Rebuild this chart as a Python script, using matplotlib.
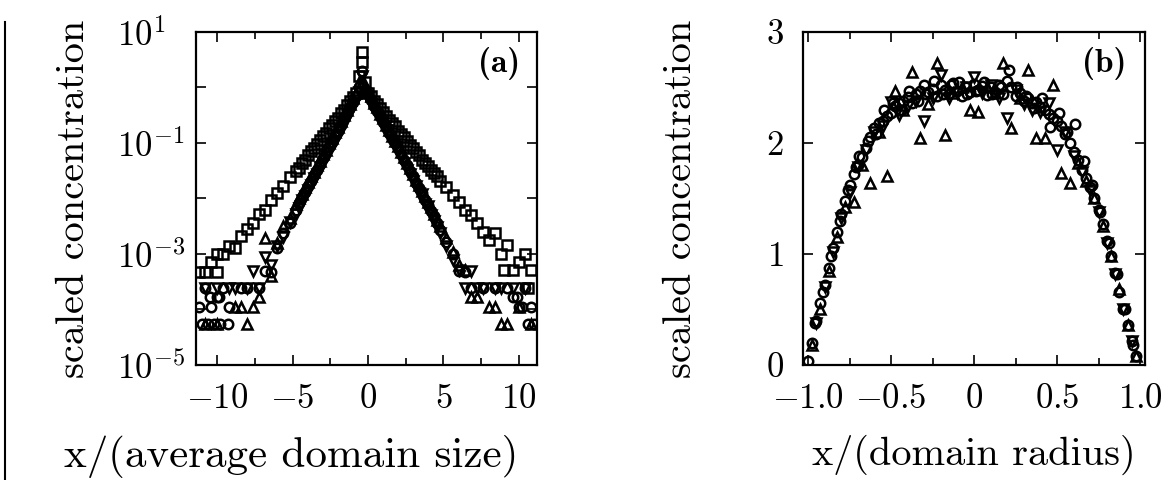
import numpy as np
import matplotlib
matplotlib.use("Agg")
import matplotlib.pyplot as plt
from matplotlib.lines import Line2D

plt.rcParams['font.family'] = 'cmr10'
plt.rcParams['mathtext.fontset'] = 'cm'
plt.rcParams['axes.formatter.use_mathtext'] = True

nan = np.nan

# ---- panel (a): x/(average domain size), values are log10(scaled concentration)
xa = [-11.2, -10.8, -10.4, -10.0, -9.6, -9.2, -8.8, -8.4, -8.0, -7.6,
      -7.2, -6.8, -6.4, -6.0, -5.6, -5.2, -4.8, -4.4, -4.0, -3.6,
      -3.2, -2.8, -2.4, -2.0, -1.6, -1.2, -0.8, -0.4,
      0.0, 0.4, 0.8, 1.2, 1.6, 2.0, 2.4, 2.8, 3.2, 3.6,
      4.0, 4.4, 4.8, 5.2, 5.6, 6.0, 6.4, 6.8, 7.2, 7.6,
      8.0, 8.4, 8.8, 9.2, 9.6, 10.0, 10.4, 10.8]

sq_a = [-3.32, -3.32, -3.14, -3.32, -3.0, -2.85, -2.9, -2.68, -2.55, -2.45,
        -2.28, -2.2, -2.02, -1.9, -1.78, -1.62, -1.5, -1.36, -1.22, -1.1,
        -0.95, -0.82, -0.68, -0.55, -0.4, -0.25, -0.1, 0.64,
        -0.1, -0.24, -0.38, -0.52, -0.64, -0.78, -0.9, -1.04, -1.16, -1.3,
        -1.42, -1.54, -1.68, -1.8, -1.94, -2.06, -2.2, -2.3, -2.44, -2.6,
        -2.75, -2.62, -3.0, -2.84, -3.29, -3.14, -3.0, -3.29]

circ_a = [-3.96, -3.61, -3.96, -3.77, -3.61, -3.96, nan, -3.61, -3.61, nan,
          -3.61, -3.3, -3.32, -2.9, -2.62, -2.44, -2.2, -1.98, -1.78, -1.58,
          -1.38, -1.16, -0.98, -0.78, -0.56, -0.36, -0.16, 0.3,
          -0.12, -0.34, -0.52, -0.72, -0.92, -1.1, -1.3, -1.5, -1.72, -1.9,
          -2.12, -2.32, -2.56, -2.78, -3.0, -3.3, -3.32, -3.61, nan, -3.61,
          nan, -3.61, nan, -3.61, -3.77, -3.96, -3.61, -3.96]

tdn_a = [nan, -3.61, nan, -3.61, nan, -3.61, -3.61, nan, -3.61, -3.3,
         -3.61, -3.05, -3.2, -2.86, -2.7, -2.42, -2.28, -2.02, -1.84, -1.64,
         -1.44, -1.24, -1.04, -0.86, -0.64, -0.44, -0.22, 0.2,
         -0.18, -0.38, -0.58, -0.76, -0.96, -1.16, -1.36, -1.56, -1.78, -1.92,
         -2.14, -2.4, -2.62, -2.86, -3.1, -3.29, -3.61, -3.3, -3.61, -3.61,
         nan, -3.61, -3.61, nan, -3.61, nan, -3.61, nan]

tup_a = [nan, -4.26, nan, -4.26, nan, nan, -3.96, -3.96, -4.26, -3.96,
         -3.77, -2.71, -3.4, -2.8, -2.5, -2.36, -2.1, -1.92, -1.7, -1.52,
         -1.32, -1.12, -0.92, -0.72, -0.5, -0.3, -0.1, 0.1,
         -0.06, -0.28, -0.48, -0.68, -0.88, -1.06, -1.26, -1.46, -1.66, -1.86,
         -2.06, -2.28, -2.5, -2.72, -2.96, -3.2, -3.29, -3.77, -3.77, nan,
         -3.96, -3.96, -4.26, -4.26, nan, -3.96, nan, -4.26]

# points between the grid positions near the peak
xa_mid = [-4.6, -4.2, -3.8, -3.4, -3.0, -2.6, -2.2, -1.8, -1.4, -1.0, -0.6, -0.2,
          0.2, 0.6, 1.0, 1.4, 1.8, 2.2, 2.6, 3.0, 3.4, 3.8, 4.2, 4.6]
sq_mid = [-1.45, -1.3, -1.14, -1.02, -0.88, -0.74, -0.6, -0.46, -0.32, -0.18, 0.2, 0.1,
          -0.16, -0.3, -0.44, -0.58, -0.7, -0.84, -0.96, -1.1, -1.22, -1.36, -1.48, -1.6]
circ_mid = [-2.08, -1.88, -1.68, -1.48, -1.28, -1.08, -0.88, -0.68, -0.46, -0.26, 0.0, -0.05,
            -0.22, -0.42, -0.62, -0.82, -1.0, -1.2, -1.4, -1.6, -1.82, -2.02, -2.22, -2.44]
tdn_mid = [-2.18, -1.96, -1.76, -1.56, -1.36, -1.16, -0.96, -0.76, -0.56, -0.34, -0.08, -0.1,
           -0.3, -0.5, -0.7, -0.9, -1.08, -1.28, -1.48, -1.68, -1.9, -2.1, -2.3, -2.52]
tup_mid = [-2.0, -1.8, -1.6, -1.4, -1.2, -1.0, -0.8, -0.6, -0.4, -0.2, 0.1, 0.05,
           -0.16, -0.36, -0.56, -0.76, -0.96, -1.16, -1.36, -1.56, -1.76, -1.96, -2.16, -2.38]

# extra points off the common grid
sq_extra_x = [-0.4, -10.0, 10.6, 9.0]
sq_extra_y = [0.46, -3.0, -3.61, -3.29]
circ_extra_x = [-11.0, -10.6, -10.2, -9.8, -9.3, -10.5, -9.9, 10.6, 11.0, 9.9, 10.2]
circ_extra_y = [-4.26, -4.26, -4.26, -4.26, -4.26, -3.77, -3.77, -4.26, -4.26, -3.77, -3.96]

# ---- panel (b): x/(domain radius)
xb = [-1.0, -0.975, -0.95, -0.925, -0.9, -0.875, -0.85, -0.825, -0.8, -0.775,
      -0.75, -0.725, -0.7, -0.675, -0.65, -0.625, -0.6, -0.575, -0.55, -0.525,
      -0.5, -0.475, -0.45, -0.425, -0.4, -0.375, -0.35, -0.325, -0.3, -0.275,
      -0.25, -0.225, -0.2, -0.175, -0.15, -0.125, -0.1, -0.075, -0.05, -0.025,
      0.0, 0.025, 0.05, 0.075, 0.1, 0.125, 0.15, 0.175, 0.2, 0.225,
      0.25, 0.275, 0.3, 0.325, 0.35, 0.375, 0.4, 0.425, 0.45, 0.475,
      0.5, 0.525, 0.55, 0.575, 0.6, 0.625, 0.65, 0.675, 0.7, 0.725,
      0.75, 0.775, 0.8, 0.825, 0.85, 0.875, 0.9, 0.925, 0.95, 0.975, 1.0]
circ_b = [0.04, 0.2, 0.4, 0.56, 0.72, 0.87, 1.05, 1.2, 1.36, 1.48,
          1.62, 1.72, 1.8, 1.87, 1.95, 2.05, 2.13, 2.18, 2.2, 2.24,
          2.27, 2.33, 2.36, 2.38, 2.41, 2.36, 2.44, 2.47, 2.52, 2.46,
          2.49, 2.42, 2.52, 2.48, 2.44, 2.54, 2.47, 2.42, 2.5, 2.46,
          2.53, 2.48, 2.51, 2.43, 2.5, 2.46, 2.52, 2.44, 2.56, 2.5,
          2.42, 2.45, 2.38, 2.4, 2.36, 2.37, 2.32, 2.3, 2.26, 2.22,
          2.2, 2.15, 2.08, 2.0, 1.92, 1.85, 1.76, 1.68, 1.6, 1.5,
          1.4, 1.27, 1.12, 0.98, 0.83, 0.66, 0.5, 0.36, 0.22, 0.08, nan]

xb2 = [-0.69, -0.64, -0.59, -0.54, -0.49, -0.44, -0.39, -0.34, -0.29, -0.24,
       -0.19, -0.14, -0.09, -0.04, 0.01, 0.06, 0.11, 0.16, 0.21, 0.26,
       0.31, 0.36, 0.41, 0.46, 0.51, 0.56, 0.61, 0.66]
circ_b2 = [1.88, 2.02, 2.08, 2.3, 2.36, 2.3, 2.47, 2.38, 2.44, 2.56,
           2.44, 2.52, 2.55, 2.44, 2.47, 2.55, 2.44, 2.5, 2.66, 2.5,
           2.42, 2.31, 2.4, 2.14, 2.27, 2.1, 2.17, 1.84]

xb3 = [-0.96, -0.91, -0.86, -0.81, -0.76, -0.71, 0.71, 0.76, 0.81, 0.86, 0.91, 0.96]
circ_b3 = [0.38, 0.66, 0.98, 1.3, 1.58, 1.78, 1.62, 1.38, 1.1, 0.82, 0.5, 0.18]

xb_dn = [-0.95, -0.9, -0.85, -0.8, -0.75, -0.7, -0.65, -0.6, -0.55, -0.5,
         -0.45, -0.4, -0.35, -0.3, -0.25, -0.2, -0.15, -0.1, -0.05, 0.0,
         0.05, 0.1, 0.15, 0.2, 0.25, 0.3, 0.35, 0.4, 0.45, 0.5,
         0.55, 0.6, 0.65, 0.7, 0.75, 0.8, 0.85, 0.9, 0.95]
tdn_b = [0.38, 0.7, 1.02, 1.32, 1.56, 1.78, 1.94, 2.1, 2.15, 2.37,
         2.25, 2.33, 2.38, 2.2, 2.4, 2.61, 2.4, 2.45, 2.5, 2.59,
         2.45, 2.52, 2.4, 2.22, 2.48, 2.35, 2.3, 2.28, 2.36, 1.94,
         2.1, 1.88, 1.74, 1.58, 1.38, 1.1, 0.82, 0.5, 0.22]

xb_up = [-0.975, -0.925, -0.875, -0.825, -0.775, -0.725, -0.675, -0.625, -0.575, -0.525,
         -0.475, -0.425, -0.375, -0.325, -0.275, -0.225, -0.175, -0.125, -0.075, -0.025,
         0.025, 0.075, 0.125, 0.175, 0.225, 0.275, 0.325, 0.375, 0.425, 0.475,
         0.525, 0.575, 0.625, 0.675, 0.725, 0.775, 0.825, 0.875, 0.925, 0.975]
tup_b = [0.18, 0.5, 0.85, 1.15, 1.42, 1.47, 1.8, 1.64, 2.1, 1.7,
         2.47, 2.3, 2.64, 2.04, 2.35, 2.72, 2.07, 2.45, 2.5, 2.3,
         2.28, 2.5, 2.45, 2.72, 2.13, 2.4, 2.66, 2.04, 2.04, 2.52,
         1.73, 1.64, 1.82, 1.66, 1.5, 1.25, 0.98, 0.68, 0.36, 0.08]

# ---------------------------------------------------------------
fig = plt.figure(figsize=(11.72, 4.8), dpi=100)
axa = fig.add_axes([0.1672, 0.2396, 0.291, 0.694])
axb = fig.add_axes([0.6852, 0.2396, 0.2918, 0.694])

mk = dict(linestyle='none', mfc='none', mec='black', mew=1.8, ms=6.8)


def lin(v):
    return 10 ** np.asarray(v, dtype=float)


axa.plot(xa, lin(sq_a), marker='s', **mk)
axa.plot(xa_mid, lin(sq_mid), marker='s', **mk)
axa.plot(sq_extra_x, lin(sq_extra_y), marker='s', **mk)
axa.plot(xa, lin(circ_a), marker='o', **mk)
axa.plot(xa_mid, lin(circ_mid), marker='o', **mk)
axa.plot(circ_extra_x, lin(circ_extra_y), marker='o', **mk)
axa.plot(xa, lin(tdn_a), marker='v', **mk)
axa.plot(xa_mid, lin(tdn_mid), marker='v', **mk)
axa.plot(xa, lin(tup_a), marker='^', **mk)
axa.plot(xa_mid, lin(tup_mid), marker='^', **mk)

axa.set_yscale('log')
axa.set_xlim(-11.4, 11.2)
axa.set_ylim(1e-5, 1e1)
axa.set_xticks([-10, -5, 0, 5, 10])
axa.set_xticklabels([r'$-10$', r'$-5$', r'$0$', r'$5$', r'$10$'])
axa.set_xticks([-7.5, -2.5, 2.5, 7.5], minor=True)
axa.set_yticks([1e-5, 1e-4, 1e-3, 1e-2, 1e-1, 1e0, 1e1])
axa.set_yticklabels([r'$10^{-5}$', '', r'$10^{-3}$', '', r'$10^{-1}$', '', r'$10^{1}$'])
axa.yaxis.set_minor_locator(matplotlib.ticker.NullLocator())
axa.tick_params(axis='y', pad=57)
for lab in axa.get_yticklabels():
    lab.set_horizontalalignment('left')
axa.set_xlabel('x/(average domain size)', fontsize=31)
axa.set_ylabel('scaled concentration', fontsize=29)
axa.text(0.89, 0.905, '(a)', transform=axa.transAxes, family='cmb10',
         fontsize=24, ha='center', va='center')

axb.plot(xb, circ_b, marker='o', **mk)
axb.plot(xb2, circ_b2, marker='o', **mk)
axb.plot(xb3, circ_b3, marker='o', **mk)
axb.plot(xb_dn, tdn_b, marker='v', **mk)
axb.plot(xb_up, tup_b, marker='^', **mk)
axb.set_xlim(-1.03, 1.03)
axb.set_ylim(0, 3)
axb.set_xticks([-1.0, -0.5, 0, 0.5, 1.0])
axb.set_xticklabels([r'$-1.0$', r'$-0.5$', r'$0$', r'$0.5$', r'$1.0$'])
axb.set_xticks([-0.75, -0.25, 0.25, 0.75], minor=True)
axb.set_yticks([0, 1, 2, 3])
axb.set_yticklabels([r'$0$', r'$1$', r'$2$', r'$3$'])
axb.tick_params(axis='y', pad=14)
axb.set_xlabel('x/(domain radius)', fontsize=29)
axb.set_ylabel('scaled concentration', fontsize=29)
axb.text(0.88, 0.905, '(b)', transform=axb.transAxes, family='cmb10',
         fontsize=24, ha='center', va='center')

for ax in (axa, axb):
    ax.tick_params(which='both', direction='in', top=True, right=True,
                   width=1.2, labelsize=25)
    ax.tick_params(which='major', length=7)
    ax.tick_params(which='minor', length=5)
    ax.tick_params(axis='x', pad=13)
    for sp in ax.spines.values():
        sp.set_linewidth(1.6)
    ax.yaxis.set_label_coords(-0.305, 0.5)

axa.xaxis.set_label_coords(0.28, -0.21)
axb.xaxis.set_label_coords(0.5, -0.21)

# scan edge line on the far left
fig.add_artist(Line2D([0.0043, 0.0043], [0.0, 0.954], color='black', lw=1.5,
                      transform=fig.transFigure))

fig.savefig('out.png', dpi=100)
